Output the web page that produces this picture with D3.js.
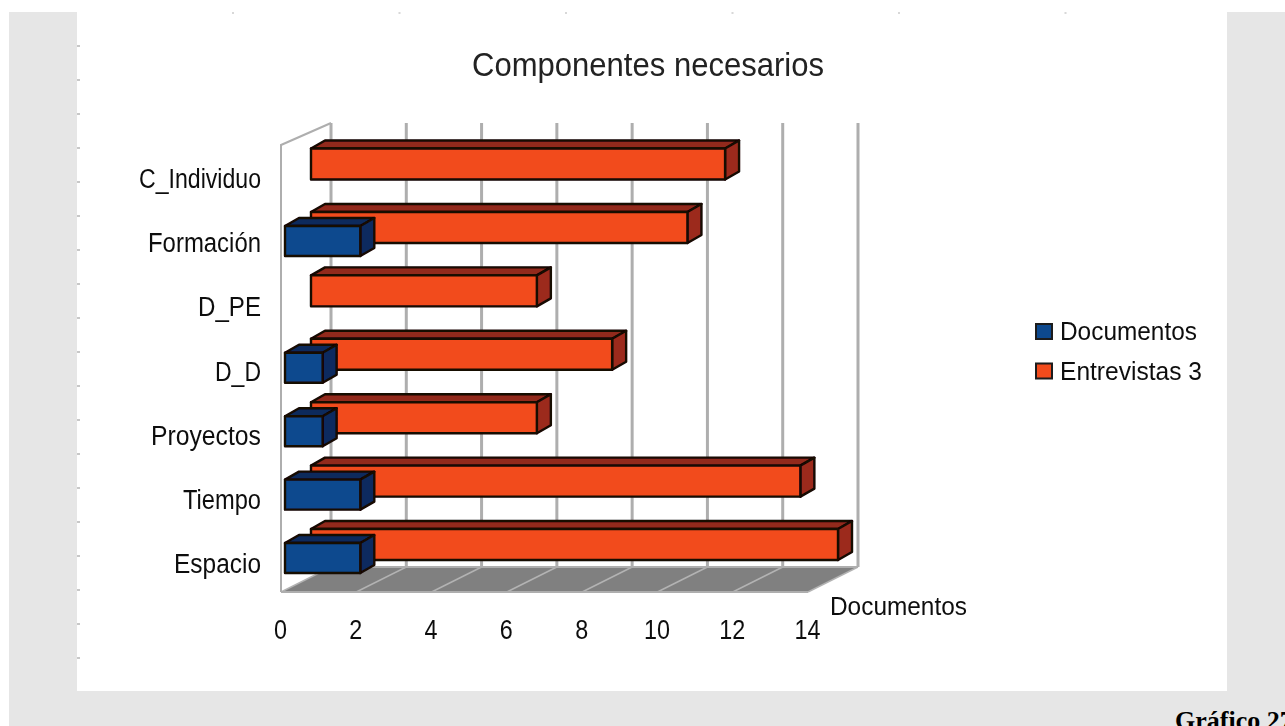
<!DOCTYPE html>
<html><head><meta charset="utf-8">
<script src="https://cdn.jsdelivr.net/npm/d3@7"></script>
<style>html,body{margin:0;padding:0;background:#fff;overflow:hidden}svg{display:block}</style>
</head><body><svg id="c" width="1285" height="726"></svg>
<script>
const categories=["C_Individuo","Formación","D_PE","D_D","Proyectos","Tiempo","Espacio"];
const documentos=[0,2,0,1,1,2,2];
const entrevistas=[11,10,6,8,6,13,14];
const seriesNames=["Documentos","Entrevistas 3"];
const xTicks=[0,2,4,6,8,10,12,14];
const titleText="Componentes necesarios";
const axisTitle="Documentos";
const captionText="Gráfico 27";

const svg=d3.select("#c");
const defs=svg.append("defs");
defs.append("filter").attr("id","soft").attr("x","-5%").attr("y","-5%").attr("width","110%").attr("height","110%")
  .append("feGaussianBlur").attr("stdDeviation",0.6);
svg.append("rect").attr("x",9).attr("y",12).attr("width",1276).attr("height",714).attr("fill","#e6e6e6");
svg.append("rect").attr("x",77).attr("y",12).attr("width",1150).attr("height",679).attr("fill","#fff");
svg.append("g").attr("fill","#c8c8c8").selectAll("rect").data(d3.range(19)).join("rect")
  .attr("x",77).attr("y",i=>45+i*34).attr("width",3).attr("height",2);
svg.append("g").attr("fill","#d8d8d8").selectAll("rect").data(d3.range(6)).join("rect")
  .attr("x",i=>232+i*166.5).attr("y",12).attr("width",2).attr("height",2);

const g=svg.append("g").attr("filter","url(#soft)");
const x=d3.scaleLinear().domain([0,14]).range([281,808]);
const y=d3.scaleBand().domain(categories).range([133.5,577.5]);
const yLabel=d3.scalePoint().domain(categories).range([188,573]);
const wallDx=50, wallDy=-25, floorY=592, wallTop=145;
const font="'Liberation Sans',Arial,sans-serif";
const poly=p=>p.map(a=>a.join(",")).join(" ");
const gridC="#aeaeae";

// floor
g.append("polygon").attr("points",poly([[x(0),floorY],[x(14),floorY],[x(14)+wallDx,floorY+wallDy],[x(0)+wallDx,floorY+wallDy]])).attr("fill","#808080");
g.append("g").selectAll("line").data(xTicks).join("line")
  .attr("x1",d=>x(d)).attr("x2",d=>x(d)+wallDx).attr("y1",floorY).attr("y2",floorY+wallDy)
  .attr("stroke","#b3b3b3").attr("stroke-width",1.5);
g.append("line").attr("x1",x(0)).attr("x2",x(14)).attr("y1",floorY).attr("y2",floorY).attr("stroke",gridC).attr("stroke-width",2);
// left wall
g.append("path").attr("d",`M${x(0)},${floorY}V${wallTop}L${x(0)+wallDx},${wallTop+wallDy+3}`)
  .attr("fill","none").attr("stroke",gridC).attr("stroke-width",2);
// back gridlines
g.append("g").selectAll("line").data(xTicks).join("line")
  .attr("x1",d=>x(d)+wallDx).attr("x2",d=>x(d)+wallDx).attr("y1",123).attr("y2",floorY+wallDy)
  .attr("stroke",gridC).attr("stroke-width",3);
g.append("line").attr("x1",x(0)+wallDx).attr("x2",x(14)+wallDx).attr("y1",floorY+wallDy).attr("y2",floorY+wallDy).attr("stroke",gridC).attr("stroke-width",2);

function bar(sel,x0,x1,top,h,d,face,topC,side){
  const dx=d, dy=-8;
  const s=sel.append("g").attr("stroke","#160705").attr("stroke-width",2.4).attr("stroke-linejoin","round");
  s.append("polygon").attr("points",poly([[x0,top],[x1,top],[x1+dx,top+dy],[x0+dx,top+dy]])).attr("fill",topC);
  s.append("polygon").attr("points",poly([[x1,top],[x1+dx,top+dy],[x1+dx,top+h+dy],[x1,top+h]])).attr("fill",side);
  s.append("rect").attr("x",x0).attr("y",top).attr("width",x1-x0).attr("height",h).attr("fill",face);
}
const rows=g.append("g");
categories.forEach((c,i)=>{
  const yTop=y(c)+15;
  const w=rows.append("g");
  bar(w,x(0)+30,x(entrevistas[i])+30,yTop,31,14,"#f24c1f","#92291a","#9c2b1c");
  if(documentos[i]>0) bar(w,x(0)+4,x(documentos[i])+4,yTop+14,30,14,"#0f4a8e","#0a2a5c","#0d2c5f");
});

// category labels
const labelLen={"C_Individuo":122,"Formación":113,"D_PE":63,"D_D":46,"Proyectos":110,"Tiempo":78,"Espacio":87};
g.append("g").selectAll("text").data(categories).join("text")
  .attr("x",261).attr("y",c=>yLabel(c)).attr("text-anchor","end")
  .attr("font-family",font).attr("font-size",27).attr("fill","#111")
  .attr("textLength",c=>labelLen[c]).attr("lengthAdjust","spacingAndGlyphs")
  .text(c=>c);

// x axis numbers
const axis=d3.axisBottom(x).tickValues(xTicks).tickSize(0).tickPadding(0);
const ax=g.append("g").attr("transform","translate(-1,0)").call(axis);
ax.select(".domain").remove();
ax.selectAll(".tick text").attr("font-family",font).attr("font-size",27).attr("fill","#111")
  .attr("y",639).attr("dy",0).attr("textLength",d=>String(d).length*13).attr("lengthAdjust","spacingAndGlyphs");

g.append("text").attr("x",830).attr("y",615).attr("font-family",font).attr("font-size",26).attr("fill","#111")
  .attr("textLength",137).attr("lengthAdjust","spacingAndGlyphs").text(axisTitle);
g.append("text").attr("x",648).attr("y",76).attr("text-anchor","middle").attr("font-family",font).attr("font-size",33).attr("fill","#222")
  .attr("textLength",352).attr("lengthAdjust","spacingAndGlyphs").text(titleText);

// legend
const lg=g.append("g").selectAll("g").data(seriesNames).join("g").attr("transform",(d,i)=>`translate(1036,${324+i*39.5})`);
lg.append("rect").attr("width",16).attr("height",15).attr("fill",(d,i)=>i?"#f24c1f":"#0f4a8e").attr("stroke","#1a1a1a").attr("stroke-width",2);
lg.append("text").attr("x",24).attr("y",16).attr("font-family",font).attr("font-size",26).attr("fill","#111")
  .attr("textLength",(d,i)=>i?142:137).attr("lengthAdjust","spacingAndGlyphs").text(d=>d);

svg.append("text").attr("x",1175).attr("y",729).attr("font-family","'Liberation Serif','Times New Roman',serif").attr("font-weight","bold").attr("font-size",26).attr("fill","#000").text(captionText);
</script></body></html>
